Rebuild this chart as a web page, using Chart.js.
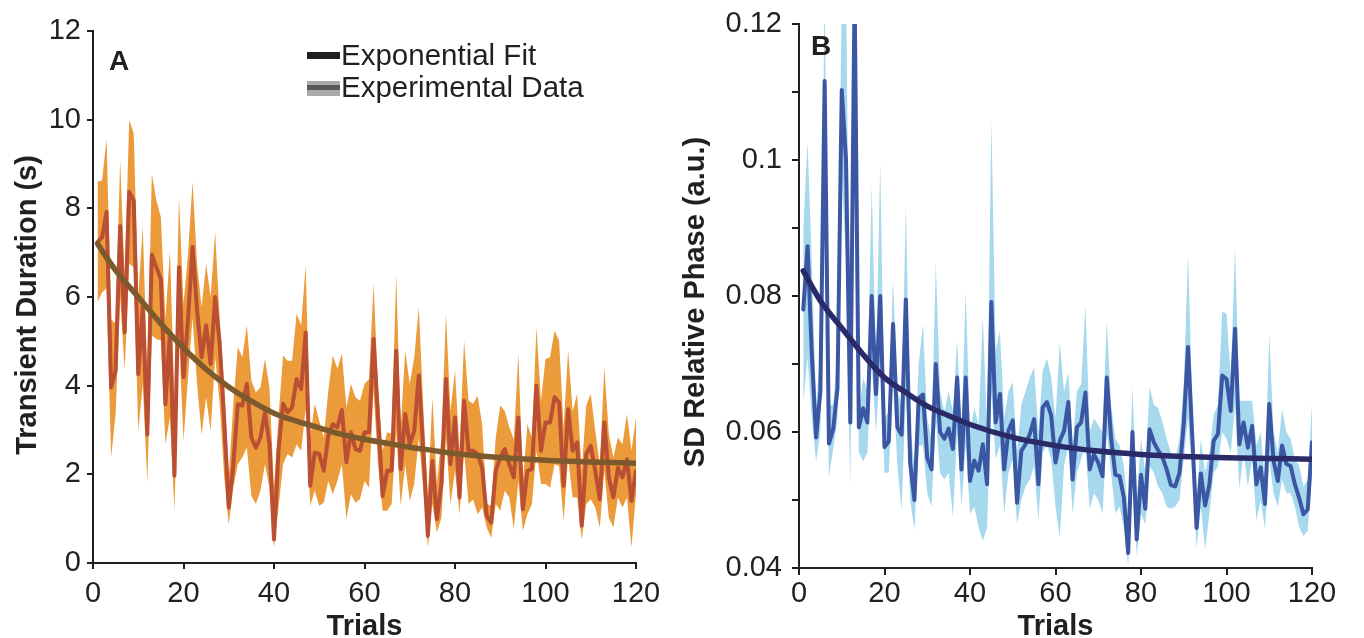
<!DOCTYPE html>
<html>
<head>
<meta charset="utf-8">
<script src="https://cdn.jsdelivr.net/npm/chart.js"></script>
<style>
  html, body { margin:0; padding:0; background:#fff; width:1364px; height:638px; overflow:hidden; }
  body { position:relative; font-family:"Liberation Sans", Arial, Helvetica, sans-serif; color:#231f20; }
  canvas { position:absolute; top:0; }
  #cA { left:0; }
  #cB { left:680px; }
  .lbl { position:absolute; font-weight:bold; font-size:28px; line-height:28px; }
  .leg { position:absolute; font-size:29.5px; line-height:30px; white-space:nowrap; }
  .sw { position:absolute; }
</style>
</head>
<body>
<canvas id="cA" width="680" height="660"></canvas>
<canvas id="cB" width="684" height="660"></canvas>
<div class="lbl" style="left:109px; top:47px;">A</div>
<div class="lbl" style="left:811px; top:32px;">B</div>
<div class="sw" style="left:307px; top:52px; width:33px; height:7px; background:#231f20;"></div>
<div class="leg" style="left:341px; top:40px;">Exponential Fit</div>
<div class="sw" style="left:307px; top:81px; width:33px; height:15px; background:#a9a9a9;"></div>
<div class="sw" style="left:307px; top:85px; width:33px; height:5px; background:#58595b;"></div>
<div class="leg" style="left:341px; top:72px;">Experimental Data</div>
<script>
// ---------- Panel A : Transient Duration (s) ----------
const trials = Array.from({length: 120}, (_, i) => i + 1);
const meanA = [7.24,7.35,7.92,3.96,4.34,7.6,5.2,8.37,8.18,4.26,5.8,2.9,6.96,6.67,6.4,3.58,5.2,1.97,6.67,4.19,
  5.5,7.13,5.7,4.64,5.36,4.49,6.0,4.94,3.2,1.25,2.2,3.58,3.55,4.04,2.83,2.6,2.83,3.4,2.68,0.53,
  2.53,3.59,3.4,3.51,4.15,3.92,5.2,1.74,2.49,2.46,2.08,2.87,3.13,3.06,3.45,2.27,2.95,2.57,2.53,2.95,
  2.95,5.05,3.28,1.51,2.08,2.08,4.79,2.12,3.36,2.68,2.98,4.23,2.53,0.61,2.3,0.99,1.78,4.15,2.23,3.28,
  1.48,3.66,2.53,2.53,2.46,2.15,1.06,0.91,2.08,2.38,2.57,2.23,1.93,3.28,1.21,2.08,2.12,4.0,2.53,3.17,
  3.17,3.74,3.62,1.74,3.47,2.53,2.72,0.84,2.46,2.64,2.08,1.44,3.17,1.93,1.48,2.15,1.93,2.34,1.4,2.08];
const upperA = [8.6,8.63,9.57,5.5,5.4,9.1,6.45,9.99,9.69,6.0,7.6,4.2,8.78,8.18,7.8,5.5,7.05,3.66,8.26,5.85,
  6.98,8.6,6.75,5.77,6.75,6.0,7.47,5.5,4.0,1.93,3.58,4.87,4.64,5.36,4.11,3.85,3.96,4.6,3.96,1.7,
  3.3,4.68,4.56,4.56,5.62,5.36,6.71,2.83,3.59,3.21,2.83,3.89,4.68,4.38,4.72,3.51,4.04,3.74,3.66,4.04,
  4.15,6.3,3.96,2.53,2.95,2.91,6.52,3.06,4.79,4.04,4.64,5.77,3.51,1.48,3.74,1.78,2.83,5.62,3.43,4.34,
  2.53,5.02,3.66,3.59,3.77,3.13,1.33,1.29,2.83,3.55,3.43,3.06,2.79,4.72,1.85,3.13,2.83,5.32,3.66,4.6,
  4.64,5.24,5.02,3.06,4.79,3.43,3.81,2.08,3.55,3.81,2.98,2.23,4.41,2.91,2.38,2.83,2.68,3.36,2.53,3.28];
const lowerA = [5.88,6.1,6.2,2.38,3.36,6.0,4.34,6.75,6.67,2.98,4.04,1.82,5.13,5.05,5.02,2.68,3.28,1.18,5.09,2.76,
  4.19,5.54,4.04,2.9,3.74,2.98,4.64,3.6,1.93,0.87,1.7,2.23,2.38,2.6,1.51,1.33,1.63,2.23,1.7,0.35,
  1.25,2.23,2.46,2.38,2.68,2.53,3.47,1.29,1.63,1.29,1.36,1.85,1.55,1.85,2.23,0.99,1.55,1.36,1.44,1.85,
  1.7,3.89,2.23,1.18,1.18,1.33,2.98,1.29,2.23,1.4,1.78,2.83,1.63,0.35,1.33,0.69,1.02,2.83,1.33,2.08,
  1.1,2.53,1.33,1.44,1.1,1.25,0.8,0.57,1.33,1.18,1.63,1.48,0.76,1.85,0.72,1.1,1.33,2.53,1.78,1.78,
  1.7,2.23,2.19,0.95,2.38,1.48,1.48,0.53,1.33,1.44,1.25,0.8,2.08,1.02,0.8,1.48,1.25,1.48,0.35,1.55];
const fitTrialsA = [1,5,10,15,20,25,30,35,40,45,50,55,60,65,70,75,80,90,100,110,120];
const fitA = [7.2,6.6,6.0,5.4,4.85,4.37,3.97,3.65,3.38,3.2,3.05,2.9,2.79,2.7,2.61,2.54,2.47,2.38,2.32,2.28,2.25];
const yTicksA = [0,2,4,6,8,10,12];

// ---------- Panel B : SD Relative Phase (a.u.) ----------
const meanB = [0.078,0.0873,0.0715,0.0592,0.0659,0.1116,0.0583,0.0604,0.0664,0.1103,0.0999,0.0614,0.125,0.0607,0.0635,0.0614,0.08,0.0656,0.08,0.0578,
  0.0586,0.0759,0.0607,0.0596,0.0795,0.0555,0.05,0.065,0.0655,0.0562,0.0545,0.07,0.06,0.059,0.0605,0.0575,0.068,0.0545,0.068,0.0528,
  0.0558,0.0543,0.0582,0.0523,0.0791,0.0614,0.0656,0.0545,0.0602,0.0617,0.0496,0.0572,0.0582,0.0597,0.0619,0.0523,0.0636,0.0644,0.0624,0.0555,
  0.0587,0.0602,0.0644,0.053,0.0607,0.0614,0.0658,0.0545,0.0567,0.0555,0.0535,0.068,0.0592,0.0537,0.0535,0.0503,0.0422,0.06,0.0442,0.0537,
  0.0487,0.0604,0.0585,0.0573,0.0563,0.0545,0.0522,0.052,0.054,0.0612,0.0725,0.0593,0.0459,0.0539,0.0492,0.0523,0.0587,0.0597,0.0683,0.0678,
  0.0631,0.0752,0.0582,0.0614,0.0577,0.0609,0.0523,0.0548,0.0494,0.0641,0.0558,0.0528,0.058,0.0553,0.055,0.0523,0.0503,0.0479,0.0486,0.0585];
const upperB = [0.09,0.1026,0.085,0.064,0.072,0.125,0.064,0.064,0.072,0.125,0.125,0.066,0.13,0.063,0.068,0.066,0.0964,0.07,0.0997,0.062,
  0.063,0.0826,0.066,0.064,0.0935,0.061,0.055,0.07,0.0759,0.062,0.059,0.085,0.066,0.063,0.066,0.063,0.0736,0.06,0.0808,0.06,
  0.0636,0.061,0.077,0.06,0.106,0.072,0.0749,0.062,0.066,0.0673,0.057,0.064,0.066,0.068,0.0695,0.06,0.069,0.0708,0.068,0.062,
  0.0732,0.066,0.0688,0.058,0.066,0.067,0.0787,0.06,0.062,0.061,0.06,0.0762,0.064,0.059,0.058,0.055,0.048,0.0666,0.05,0.059,
  0.054,0.0666,0.064,0.0635,0.0615,0.059,0.057,0.056,0.059,0.067,0.0862,0.064,0.05,0.059,0.054,0.057,0.0625,0.064,0.0777,0.0774,
  0.068,0.0872,0.0646,0.0646,0.0646,0.0646,0.058,0.06,0.053,0.0745,0.06,0.057,0.0634,0.06,0.059,0.056,0.055,0.052,0.053,0.0641];
const lowerB = [0.0643,0.071,0.062,0.0557,0.06,0.098,0.0534,0.0575,0.062,0.098,0.085,0.0518,0.11,0.057,0.0557,0.057,0.07,0.06,0.07,0.054,
  0.054,0.068,0.055,0.0485,0.066,0.05,0.0456,0.058,0.058,0.051,0.049,0.062,0.054,0.053,0.054,0.0475,0.06,0.049,0.058,0.048,
  0.049,0.046,0.044,0.046,0.066,0.056,0.058,0.048,0.054,0.056,0.0464,0.05,0.052,0.053,0.055,0.047,0.057,0.058,0.056,0.049,
  0.0445,0.055,0.058,0.048,0.054,0.056,0.058,0.0487,0.051,0.05,0.048,0.06,0.054,0.048,0.049,0.046,0.0403,0.053,0.0418,0.048,
  0.0464,0.055,0.054,0.052,0.051,0.049,0.0487,0.049,0.05,0.056,0.062,0.054,0.0429,0.049,0.0427,0.048,0.054,0.055,0.06,0.059,
  0.057,0.064,0.0516,0.057,0.052,0.056,0.047,0.05,0.0457,0.056,0.051,0.049,0.053,0.051,0.051,0.049,0.046,0.0447,0.0455,0.054];
const fitTrialsB = [1,5,10,15,20,25,30,35,40,50,60,70,80,90,100,110,120];
const fitB = [0.0837,0.0793,0.0753,0.0714,0.068,0.0658,0.0638,0.0624,0.0611,0.0592,0.058,0.0572,0.0567,0.0564,0.0562,0.0561,0.056];
const yTicksB = [0.04,0.05,0.06,0.07,0.08,0.09,0.1,0.11,0.12];
const yTickLabelsB = {"0.04":"0.04","0.06":"0.06","0.08":"0.08","0.1":"0.1","0.12":"0.12"};

const xTicks = [0,20,40,60,80,100,120];

const INK = '#231f20';
const FONT = '"Liberation Sans", Arial, Helvetica, sans-serif';
const pts = (xs, ys) => xs.map((x, i) => ({x: x, y: ys[i]}));

// rotated y-axis title, placed at the reference's position
const yTitlePlugin = {
  id: 'yTitleText',
  afterDraw(chart, args, opts) {
    const ctx = chart.ctx;
    ctx.save();
    ctx.translate(opts.x, opts.y);
    ctx.rotate(-Math.PI / 2);
    ctx.font = 'bold 29px ' + FONT;
    ctx.fillStyle = INK;
    ctx.textAlign = 'center';
    ctx.textBaseline = 'middle';
    ctx.fillText(opts.text, 0, 0);
    ctx.restore();
  }
};

function makePanel(id, o) {
  const ctx = document.getElementById(id);
  return new Chart(ctx, {
    type: 'line',
    plugins: [yTitlePlugin],
    data: {
      datasets: [
        { label: 'Exponential Fit', data: pts(o.fitX, o.fitY), borderColor: o.fitColor, borderWidth: 5.5,
          pointRadius: 0, fill: false, cubicInterpolationMode: 'monotone', clip: 0, order: 0,
          borderCapStyle: 'round' },
        { label: 'Experimental Data', data: pts(trials, o.mean), borderColor: o.lineColor, borderWidth: 4,
          pointRadius: 0, fill: false, tension: 0, clip: 0, order: 1,
          borderJoinStyle: 'round', borderCapStyle: 'round' },
        { label: 'upper', data: pts(trials, o.upper), borderWidth: 0, borderColor: 'rgba(0,0,0,0)',
          backgroundColor: o.bandColor, pointRadius: 0, fill: '+1', tension: 0, clip: 0, order: 2 },
        { label: 'lower', data: pts(trials, o.lower), borderWidth: 0, borderColor: 'rgba(0,0,0,0)',
          pointRadius: 0, fill: false, tension: 0, clip: 0, order: 3 }
      ]
    },
    options: {
      responsive: false, animation: false, devicePixelRatio: 1,
      layout: { padding: o.pad },
      plugins: { legend: { display: false }, tooltip: { enabled: false },
                 yTitleText: { text: o.yTitle, x: o.yTitleX, y: o.yTitleY } },
      scales: {
        x: {
          type: 'linear', min: 0, max: 120,
          afterBuildTicks: s => { s.ticks = xTicks.map(v => ({value: v})); },
          afterFit: s => { s.height = o.xH; s.paddingLeft = 0; s.paddingRight = 0; s.paddingTop = 0; s.paddingBottom = 0; },
          grid: { display: true, drawOnChartArea: false, drawTicks: true, tickLength: o.tl, color: INK, lineWidth: 2 },
          border: { display: true, color: INK, width: 2 },
          ticks: { color: INK, font: { family: FONT, size: 29 }, padding: o.xPad, maxRotation: 0, autoSkip: false },
          title: { display: true, text: 'Trials', color: INK, font: { family: FONT, size: 29, weight: 'bold' },
                   padding: { top: 0, bottom: o.xTitlePad } }
        },
        y: {
          type: 'linear', min: o.yMin, max: o.yMax,
          afterBuildTicks: s => { s.ticks = o.yTicks.map(v => ({value: v})); },
          afterFit: s => { s.width = o.yW; s.paddingTop = 0; s.paddingBottom = 0; s.paddingLeft = 0; s.paddingRight = 0; },
          grid: { display: true, drawOnChartArea: false, drawTicks: true, tickLength: o.tl, color: INK, lineWidth: 2 },
          border: { display: true, color: INK, width: 2 },
          ticks: { color: INK, font: { family: FONT, size: 29 }, padding: o.yPad, autoSkip: false, callback: o.yCb },
          title: { display: false, text: o.yTitle }
        }
      }
    }
  });
}

makePanel('cA', {
  fitX: fitTrialsA, fitY: fitA, mean: meanA, upper: upperA, lower: lowerA,
  fitColor: '#7d5a2d', lineColor: '#bb4f33', bandColor: '#ec9b3a',
  pad: { left: 0, right: 44, top: 31, bottom: 0 }, xH: 97, yW: 93, tl: 6, xPad: 8, yPad: 6,
  xTitlePad: 16, yMin: 0, yMax: 12, yTicks: yTicksA,
  yCb: v => String(v), yTitle: 'Transient Duration (s)', yTitleX: 28, yTitleY: 305
});

makePanel('cB', {
  fitX: fitTrialsB, fitY: fitB, mean: meanB, upper: upperB, lower: lowerB,
  fitColor: '#2b2a69', lineColor: '#3b56a3', bandColor: '#a6d8ee',
  pad: { left: 0, right: 52, top: 24, bottom: 0 }, xH: 92, yW: 119, tl: 7, xPad: 2, yPad: 10,
  xTitlePad: 16, yMin: 0.04, yMax: 0.12, yTicks: yTicksB,
  yCb: v => { const k = String(Math.round(v * 100) / 100); return yTickLabelsB[k] || ''; },
  yTitle: 'SD Relative Phase (a.u.)', yTitleX: 16, yTitleY: 302
});
</script>
</body>
</html>
